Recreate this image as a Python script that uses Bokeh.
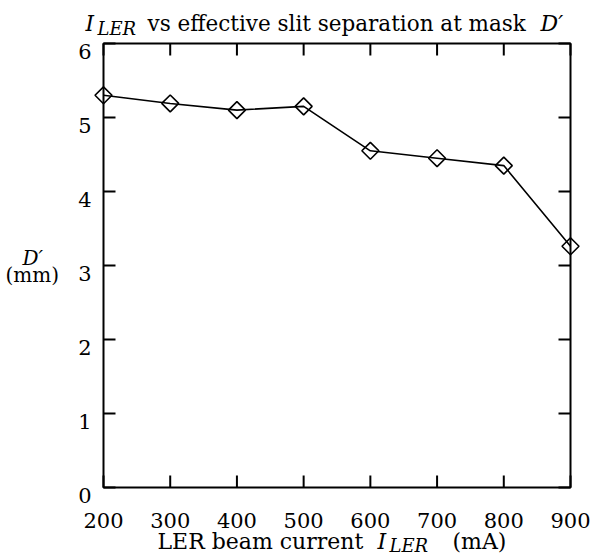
from bokeh.plotting import figure
from bokeh.models import Range1d
from bokeh.core.properties import value
from bokeh.embed import file_html
from bokeh.resources import INLINE

# data
current_mA = [200, 300, 400, 500, 600, 700, 800, 900]
d_prime_mm = [5.30, 5.19, 5.10, 5.15, 4.55, 4.45, 4.35, 3.26]
x_ticks = [200, 300, 400, 500, 600, 700, 800, 900]
y_ticks = [0, 1, 2, 3, 4, 5, 6]
x_tick_labels = [str(t) for t in x_ticks]
y_tick_labels = [str(t) for t in y_ticks]

X0, X1, Y0, Y1 = 200, 900, 0, 6
W, H = 595, 556
BL, BR, BT, BB = 103, 570, 43, 487     # plot box edges in canvas px
XS = (X1 - X0) / (BR - BL)              # data units per px
YS = (Y1 - Y0) / (BB - BT)
FONT = "DejaVu Serif"
TICK = 12

p = figure(width=W, height=H,
           x_range=Range1d(X0 - BL * XS, X1 + (W - BR) * XS),
           y_range=Range1d(Y0 - (H - BB) * YS, Y1 + BT * YS),
           output_backend="svg", toolbar_location=None, min_border=0,
           x_axis_location=None, y_axis_location=None, title=None)
p.grid.visible = False
p.outline_line_color = None
p.background_fill_color = "white"
p.border_fill_color = "white"

# plot box
p.quad(left=[X0], right=[X1], bottom=[Y0], top=[Y1], fill_alpha=0,
       line_color="black", line_width=2)

# inward ticks on all four sides
nx, ny = len(x_ticks), len(y_ticks)
p.segment(x0=x_ticks, y0=[Y0] * nx, x1=x_ticks, y1=[Y0 + TICK * YS] * nx, line_color="black", line_width=2)
p.segment(x0=x_ticks, y0=[Y1] * nx, x1=x_ticks, y1=[Y1 - TICK * YS] * nx, line_color="black", line_width=2)
p.segment(x0=[X0] * ny, y0=y_ticks, x1=[X0 + TICK * XS] * ny, y1=y_ticks, line_color="black", line_width=2)
p.segment(x0=[X1] * ny, y0=y_ticks, x1=[X1 - TICK * XS] * ny, y1=y_ticks, line_color="black", line_width=2)

# tick labels
p.text(x=x_ticks, y=[Y0] * nx, text=x_tick_labels, text_font=value(FONT), text_font_size="21px",
       text_color="black", text_align="center", text_baseline="alphabetic", y_offset=33)
p.text(x=[X0] * ny, y=y_ticks, text=y_tick_labels, text_font=value(FONT), text_font_size="21px",
       text_color="black", text_align="right", text_baseline="alphabetic", x_offset=-12, y_offset=8)

# data
p.line(current_mA, d_prime_mm, line_color="black", line_width=1.6)
p.scatter(current_mA, d_prime_mm, marker="square", angle=0.785398, size=12,
          fill_alpha=0, line_color="black", line_width=1.6)


def put(text, px, py, size, italic=False):
    # px, py: canvas pixel position of the text's left baseline
    p.text(x=[X0 + (px - BL) * XS], y=[Y0 + (BB - py) * YS], text=[text],
           text_font=value(FONT), text_font_size=f"{size}px",
           text_font_style="italic" if italic else "normal",
           text_color="black", text_align="left", text_baseline="alphabetic")


# title
put("I", 85, 23, 21.5, True)
put("LER", 97, 28, 18, True)
put("vs effective slit separation at mask", 147, 23, 21.5)
put("D\u2032", 540, 23, 22, True)

# x axis label
put("LER beam current", 157, 541, 22)
put("I", 377, 541, 22, True)
put("LER", 389, 545, 18, True)
put("(mA)", 452, 541, 22)

# y axis label
put("D\u2032", 22, 257, 20, True)
put("(mm)", 5, 274, 20)

open("out.html", "w").write(file_html(p, INLINE))
